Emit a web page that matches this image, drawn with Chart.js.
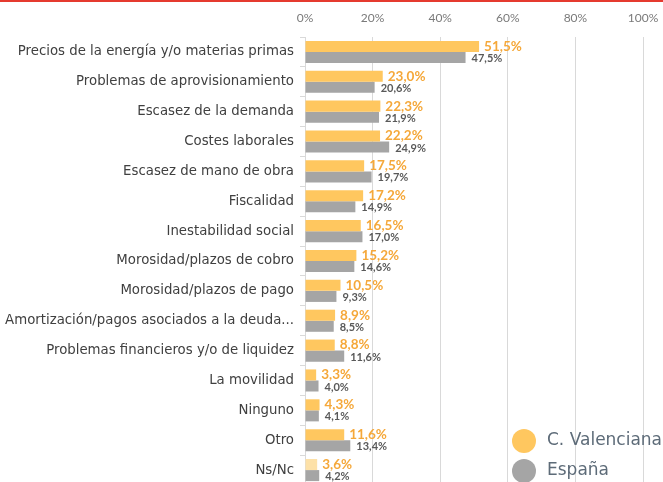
<!DOCTYPE html>
<html>
<head>
<meta charset="utf-8">
<script src="https://cdn.jsdelivr.net/npm/chart.js@4"></script>
<style>
  html, body { margin: 0; padding: 0; background: #fff; overflow: hidden; width: 663px; height: 482px; }
  #chart { position: absolute; left: 0; top: 0; }
  #redline { position: absolute; left: 0; top: 0; width: 663px; height: 2px; background: #e53a2f; }
</style>
</head>
<body>
<canvas id="chart" width="663" height="485"></canvas>
<div id="redline"></div>
<script>
const categories = [
  'Precios de la energía y/o materias primas',
  'Problemas de aprovisionamiento',
  'Escasez de la demanda',
  'Costes laborales',
  'Escasez de mano de obra',
  'Fiscalidad',
  'Inestabilidad social',
  'Morosidad/plazos de cobro',
  'Morosidad/plazos de pago',
  'Amortización/pagos asociados a la deuda...',
  'Problemas financieros y/o de liquidez',
  'La movilidad',
  'Ninguno',
  'Otro',
  'Ns/Nc'
];
const valenciana = [51.5, 23.0, 22.3, 22.2, 17.5, 17.2, 16.5, 15.2, 10.5, 8.9, 8.8, 3.3, 4.3, 11.6, 3.6];
const espana = [47.5, 20.6, 21.9, 24.9, 19.7, 14.9, 17.0, 14.6, 9.3, 8.5, 11.6, 4.0, 4.1, 13.4, 4.2];
const seriesNames = ['C. Valenciana', 'España'];
const xTicks = [0, 20, 40, 60, 80, 100];

const FONT = '"DejaVu Sans", sans-serif';
const LFONT = 'Lato, sans-serif';
const yellow = '#ffc75f';
const yellowLight = '#fde1a8';
const grey = '#a5a5a5';

// colores de la serie valenciana (el último más claro)
const yellowColors = valenciana.map((v, i) => i === valenciana.length - 1 ? yellowLight : yellow);

const fmt = v => v.toFixed(1).replace('.', ',') + '%';

// etiquetas al final de cada barra
const barLabels = {
  id: 'barLabels',
  afterDatasetsDraw(chart) {
    const ctx = chart.ctx;
    ctx.save();
    ctx.textBaseline = 'middle';
    ctx.textAlign = 'left';
    chart.data.datasets.forEach((ds, di) => {
      const meta = chart.getDatasetMeta(di);
      meta.data.forEach((el, i) => {
        if (di === 0) {
          ctx.font = 'bold 13.5px ' + LFONT;
          ctx.fillStyle = '#f5a83a';
          ctx.fillText(fmt(ds.data[i]), el.x + 5, el.y);
        } else {
          ctx.font = 'bold 11px ' + LFONT;
          ctx.fillStyle = '#595959';
          ctx.fillText(fmt(ds.data[i]), el.x + 6, el.y + 1);
        }
      });
    });
    ctx.restore();
  }
};

// leyenda dentro del gráfico, abajo a la derecha
const circleLegend = {
  id: 'circleLegend',
  afterDraw(chart) {
    const ctx = chart.ctx;
    const colors = [yellow, grey];
    ctx.save();
    ctx.font = '17px ' + FONT;
    ctx.textBaseline = 'middle';
    seriesNames.forEach((name, i) => {
      const cy = 441 + i * 30;
      ctx.beginPath();
      ctx.arc(524, cy, 12, 0, Math.PI * 2);
      ctx.fillStyle = colors[i];
      ctx.fill();
      ctx.fillStyle = '#5d6b78';
      ctx.fillText(name, 547, cy);
    });
    ctx.restore();
  }
};

new Chart(document.getElementById('chart'), {
  type: 'bar',
  data: {
    labels: categories,
    datasets: [
      { label: seriesNames[0], data: valenciana, backgroundColor: yellowColors },
      { label: seriesNames[1], data: espana, backgroundColor: grey }
    ]
  },
  options: {
    indexAxis: 'y',
    responsive: false,
    animation: false,
    categoryPercentage: 0.74,
    barPercentage: 1,
    layout: { padding: { left: 0, right: 20, top: 0, bottom: 0 } },
    plugins: {
      legend: { display: false },
      tooltip: { enabled: false }
    },
    scales: {
      x: {
        position: 'top',
        min: 0,
        max: 100,
        afterBuildTicks(scale) { scale.ticks = xTicks.map(v => ({ value: v })); },
        afterFit(scale) {
          scale.height = 37;
          scale.paddingLeft = 0;
          scale.paddingRight = 0;
        },
        ticks: {
          callback: v => v + '%',
          font: { family: LFONT, size: 12 },
          color: '#7a7a7a',
          padding: 12,
          maxRotation: 0
        },
        grid: { color: '#d9d9d9', drawTicks: false },
        border: { display: false }
      },
      y: {
        afterFit(scale) {
          scale.width = 305;
          scale.paddingTop = 0;
          scale.paddingBottom = 0;
        },
        ticks: {
          font: { family: FONT, size: 13.3 },
          color: '#404040',
          padding: 6,
          autoSkip: false
        },
        grid: { drawOnChartArea: false, color: '#d9d9d9', tickLength: 5 },
        border: { color: '#d9d9d9' }
      }
    }
  },
  plugins: [barLabels, circleLegend]
});
</script>
</body>
</html>
